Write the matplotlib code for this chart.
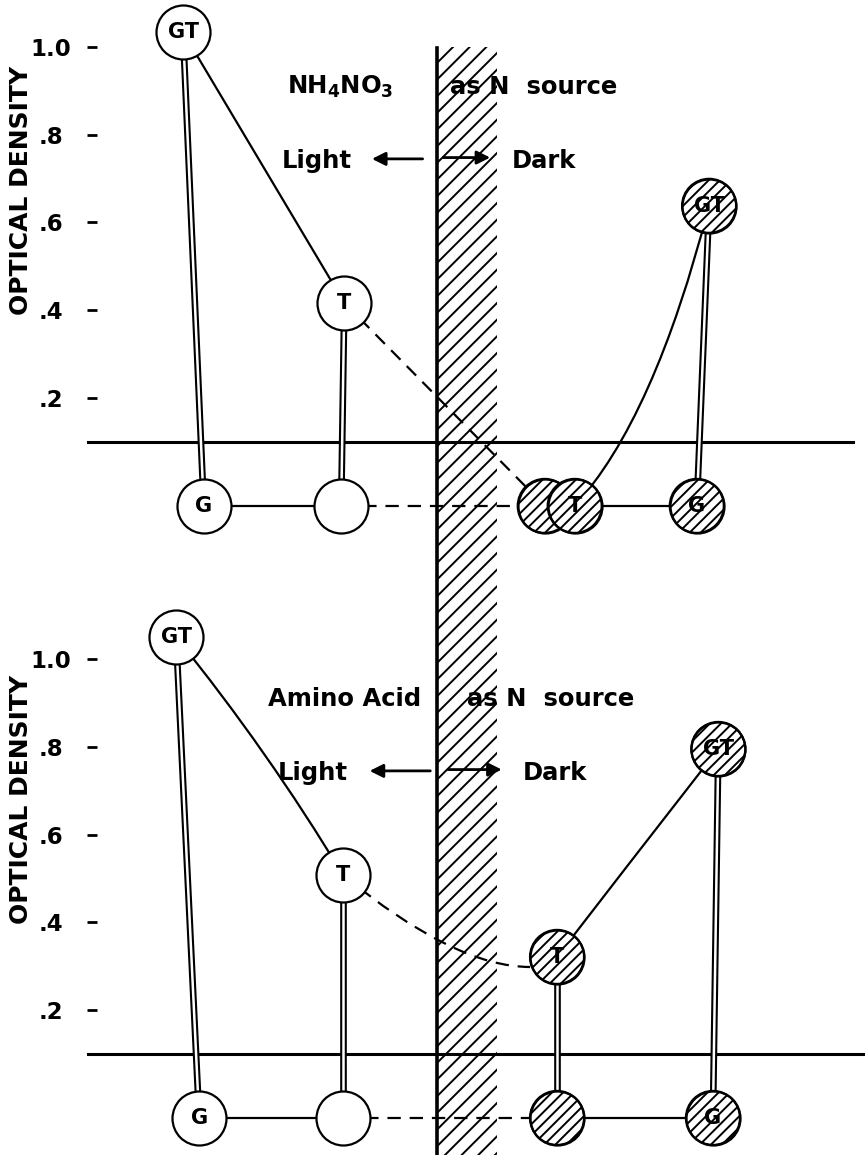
import matplotlib
matplotlib.use("Agg")
import matplotlib.pyplot as plt
from matplotlib.path import Path
from matplotlib.patches import PathPatch, Rectangle

plt.rcParams['font.family'] = ['DejaVu Sans']
plt.rcParams['font.weight'] = 'bold'
plt.rcParams['mathtext.default'] = 'bf'
plt.rcParams['hatch.linewidth'] = 1.4

# ---------------------------------------------------------------- data
panel_titles = ["NH$_4$NO$_3$", "Amino Acid"]
source_text = "as N  source"
tick_values = [0.2, 0.4, 0.6, 0.8, 1.0]
tick_labels = [".2", ".4", ".6", ".8", "1.0"]

# optical density of each culture (upper panel, lower panel)
light_gt = [1.034, 1.050]   # light, glucose + tryptone
light_t = [0.417, 0.508]    # light, tryptone
dark_t = [-0.046, 0.321]    # dark, tryptone
dark_gt = [0.638, 0.795]    # dark, glucose + tryptone

# ---------------------------------------------------------------- layout
row_level = -0.046      # row of the G circles under the base line
base_level = 0.10       # horizontal base line
band_x = (44.3, 52.1)   # hatched light/dark divider
x_light_gt = [11.2, 10.3]
x_light_g = [13.9, 13.3]
x_light_t = [32.2, 32.0]
x_light_e = [31.8, 32.0]
x_dark_e = [58.3, 59.9]
x_dark_t = [62.2, 59.9]
x_dark_g = [78.1, 80.2]
x_dark_gt = [79.7, 80.9]
# bends of the hand drawn connecting curves (control points)
light_bend = [None, (22.3, 0.79)]
dash_bend = [None, (46.6, 0.298)]
dash_end = [None, (56.4, 0.298)]
dark_bend = [(72.5, 0.15), (67.5, 0.494)]

W, H = 865, 1155
fig = plt.figure(figsize=(W / 100, H / 100), dpi=100)
fig.patch.set_facecolor('white')

left = 97 / W
width = 768 / W
ax_top = fig.add_axes([left, 0.52246, width, 0.474838])
ax_bot = fig.add_axes([left, 0.00018, width, 0.467237])
ax_top.set_ylim(-0.15, 1.1)
ax_bot.set_ylim(-0.13, 1.1)

S = (54 * 0.72) ** 2     # circle marker area (pt^2)
LW = 1.6


def circle(ax, x, y, label=None, dark=False, z=5):
    ax.scatter([x], [y], s=S, facecolor='white', edgecolor='black',
               linewidth=LW, zorder=z, clip_on=False)
    if label:
        ax.text(x, y, label, ha='center', va='center', fontsize=15,
                fontweight='bold', zorder=z + 0.1)
    if dark:
        ax.scatter([x], [y], s=S, facecolor='none', edgecolor='black',
                   linewidth=LW, hatch='///', zorder=z + 0.2, clip_on=False)


def double_line(ax, x0, y0, x1, y1):
    ax.plot([x0, x1], [y0, y1], color='black', lw=4.8, zorder=2,
            solid_capstyle='butt', clip_on=False)
    ax.plot([x0, x1], [y0, y1], color='white', lw=1.8, zorder=2.1,
            solid_capstyle='butt', clip_on=False)


def curve(ax, p0, c, p1, dashed=False):
    path = Path([p0, c, p1], [Path.MOVETO, Path.CURVE3, Path.CURVE3])
    ax.add_patch(PathPatch(path, fill=False, edgecolor='black', lw=1.6,
                           linestyle=(0, (6, 4)) if dashed else '-',
                           zorder=3, clip_on=False))


for i, ax in enumerate([ax_top, ax_bot]):
    ax.set_xlim(0, 100)
    ax.patch.set_alpha(0)
    for sp in ax.spines.values():
        sp.set_visible(False)
    ax.xaxis.set_visible(False)
    ax.set_yticks(tick_values)
    ax.set_yticklabels(tick_labels)
    ax.tick_params(axis='y', length=7.2, width=2.0, pad=26, labelsize=16.5)
    for lab in ax.get_yticklabels():
        lab.set_ha('center')
        lab.set_fontweight('bold')
    ax.text(-0.099, 0.6577, "OPTICAL DENSITY", transform=ax.transAxes,
            rotation=90, ha='center', va='center', fontsize=18,
            fontweight='bold')

    # base line
    ax.plot([-1.2, 98.4 if i == 0 else 100], [base_level, base_level],
            color='black', lw=2.2, zorder=2, clip_on=False)

    # titles and light / dark arrows
    ax.text(24.7 if i == 0 else 22.3, 0.894, panel_titles[i], fontsize=17.5,
            fontweight='bold', ha='left', va='baseline', zorder=6)
    ax.text(46.0 if i == 0 else 48.2, 0.894, source_text, fontsize=17.5,
            fontweight='bold', ha='left', va='baseline', zorder=6)
    ax.text(24.1 if i == 0 else 23.6, 0.724, "Light", fontsize=17.5,
            fontweight='bold', ha='left', va='baseline', zorder=6)
    ax.text(54.0 if i == 0 else 55.5, 0.724, "Dark", fontsize=17.5,
            fontweight='bold', ha='left', va='baseline', zorder=6)
    arrow = dict(arrowstyle='-|>', color='black', lw=2.0, mutation_scale=20,
                 shrinkA=0, shrinkB=0)
    ax.annotate("", xy=(35.8 if i == 0 else 35.5, 0.745),
                xytext=(42.4 if i == 0 else 43.4, 0.745), arrowprops=arrow,
                zorder=6)
    ax.annotate("", xy=(51.2 if i == 0 else 52.7, 0.748),
                xytext=(45.1 if i == 0 else 45.7, 0.748), arrowprops=arrow,
                zorder=6)

    # row of G circles
    ax.plot([x_light_g[i], x_light_e[i]], [row_level] * 2, color='black',
            lw=1.6, zorder=2)
    ax.plot([x_light_e[i], x_dark_e[i]], [row_level] * 2, color='black',
            lw=1.6, linestyle=(0, (6, 4)), zorder=2)
    ax.plot([x_dark_t[i] if i == 0 else x_dark_e[i], x_dark_g[i]],
            [row_level] * 2, color='black', lw=1.6, zorder=2)

    # vertical double bars
    double_line(ax, x_light_gt[i], light_gt[i], x_light_g[i], row_level)
    double_line(ax, x_light_t[i], light_t[i], x_light_e[i], row_level)
    double_line(ax, x_dark_gt[i], dark_gt[i], x_dark_g[i], row_level)
    if i == 1:
        double_line(ax, x_dark_t[i], dark_t[i], x_dark_e[i], row_level)

    # connecting curves
    p_gt = (x_light_gt[i], light_gt[i])
    p_t = (x_light_t[i], light_t[i])
    if light_bend[i] is None:
        ax.plot([p_gt[0], p_t[0]], [p_gt[1], p_t[1]], color='black', lw=1.6,
                zorder=3)
    else:
        curve(ax, p_gt, light_bend[i], p_t)
    if dash_bend[i] is None:
        ax.plot([p_t[0], x_dark_e[i]], [p_t[1], row_level], color='black',
                lw=1.6, linestyle=(0, (6, 4)), zorder=3, clip_on=False)
    else:
        curve(ax, p_t, dash_bend[i], dash_end[i], dashed=True)
    curve(ax, (x_dark_t[i], dark_t[i]), dark_bend[i],
          (x_dark_gt[i], dark_gt[i]))

    # circles
    circle(ax, x_light_gt[i], light_gt[i], "GT")
    circle(ax, x_light_g[i], row_level, "G")
    circle(ax, x_light_t[i], light_t[i], "T")
    circle(ax, x_light_e[i], row_level)
    circle(ax, x_dark_e[i], row_level, dark=True)
    circle(ax, x_dark_t[i], dark_t[i], "T", dark=True, z=6)
    circle(ax, x_dark_g[i], row_level, "G", dark=True)
    circle(ax, x_dark_gt[i], dark_gt[i], "GT", dark=True)

# hatched divider running through both panels
ax_top.add_patch(Rectangle((band_x[0], -1.7), band_x[1] - band_x[0], 2.7,
                           facecolor='none', edgecolor='black', lw=0,
                           hatch='//', zorder=1, clip_on=False))
ax_top.plot([band_x[0], band_x[0]], [0.998, -1.7], color='black', lw=2.6,
            zorder=1.5, clip_on=False)

fig.savefig("out.png", dpi=100, facecolor='white')
